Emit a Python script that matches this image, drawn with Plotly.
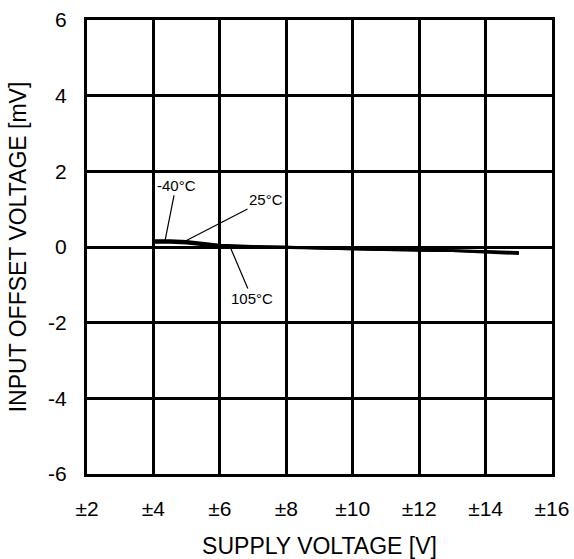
import plotly.graph_objects as go

# supply voltage (±V) and offset voltage (mV) per temperature
supply_v = [4, 4.5, 5, 5.5, 6, 7, 8, 9, 10, 11, 12, 13, 14, 15]
vos_m40 = [0.17, 0.17, 0.15, 0.10, 0.05, 0.02, 0.00, -0.02, -0.05, -0.07, -0.08, -0.09, -0.11, -0.14]
vos_25 = [0.15, 0.15, 0.13, 0.08, 0.03, 0.01, 0.00, -0.03, -0.06, -0.07, -0.08, -0.10, -0.12, -0.16]
vos_105 = [0.12, 0.12, 0.10, 0.05, 0.02, 0.00, -0.01, -0.03, -0.06, -0.08, -0.09, -0.10, -0.13, -0.18]

x_ticks = [2, 4, 6, 8, 10, 12, 14, 16]
x_labels = ["±2", "±4", "±6", "±8", "±10", "±12", "±14", "±16"]
y_ticks = [-6, -4, -2, 0, 2, 4, 6]
y_labels = ["-6", "-4", "-2", "0", "2", "4", "6"]

fig = go.Figure()
for vals in (vos_m40, vos_25, vos_105):
    fig.add_trace(go.Scatter(x=supply_v, y=vals, mode="lines",
                             line=dict(color="black", width=2.5), showlegend=False))

# temperature labels with leader lines
labels = [
    ("-40°C", 4.35, 0.17, 4.68, 1.63),
    ("25°C", 4.95, 0.15, 7.39, 1.26),
    ("105°C", 6.31, 0.0, 6.97, -1.36),
]
for txt, px_, py_, tx, ty in labels:
    fig.add_annotation(x=px_, y=py_, ax=tx, ay=ty, axref="x", ayref="y",
                       text=txt, showarrow=True, arrowhead=0, arrowwidth=1.2,
                       arrowcolor="black", standoff=0,
                       font=dict(size=15, color="black"))

fig.update_layout(
    width=574, height=559,
    margin=dict(l=87, r=22, t=20, b=85),
    paper_bgcolor="white", plot_bgcolor="white",
    font=dict(family="Liberation Sans, Arial, sans-serif", color="black", size=21),
    xaxis=dict(range=[2, 16], tickvals=x_ticks, ticktext=x_labels,
               showgrid=True, gridcolor="black", gridwidth=2.5,
               showline=True, linecolor="black", linewidth=3, mirror=True,
               zeroline=False, ticks="", ticklabelstandoff=14, automargin=False,
               ticklabeloverflow="allow",
               title=dict(text="SUPPLY VOLTAGE [V]", standoff=32, font=dict(size=23))),
    yaxis=dict(range=[-6, 6], tickvals=y_ticks, ticktext=y_labels,
               showgrid=True, gridcolor="black", gridwidth=2.5,
               showline=True, linecolor="black", linewidth=3, mirror=True,
               zeroline=False, ticks="", ticklabelstandoff=13, automargin=False,
               ticklabeloverflow="allow",
               title=dict(text="INPUT OFFSET VOLTAGE [mV]", standoff=16, font=dict(size=23))),
)

# drop the default page margin so the figure sits at the window's corner
fig.write_html("out.html", config={"displayModeBar": False},
               post_script="document.body.style.margin='0';")
